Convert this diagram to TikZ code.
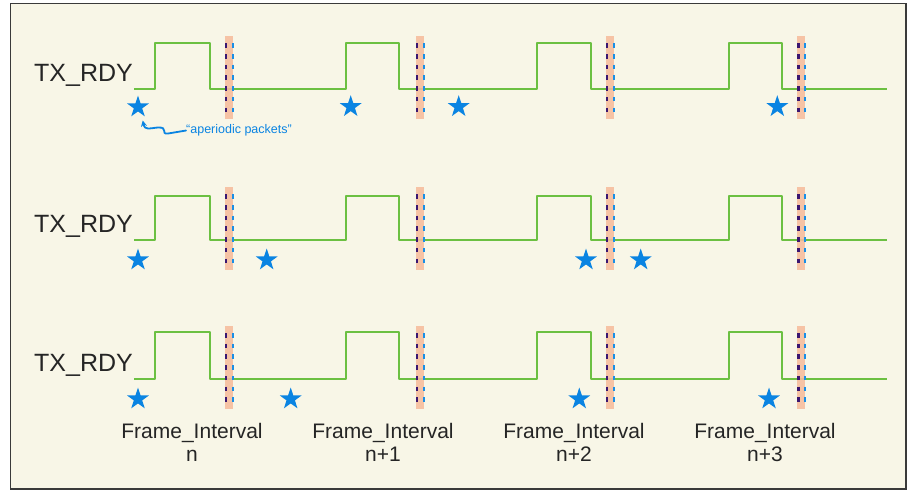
\documentclass[tikz,border=0pt]{standalone}
\usepackage{fontspec}
\setmainfont{Liberation Sans}
\usetikzlibrary{shapes.geometric,arrows.meta}
\definecolor{bgc}{HTML}{F8F6E7}
\definecolor{framec}{HTML}{3A3A3A}
\definecolor{sig}{HTML}{6CC042}
\definecolor{barc}{HTML}{F6BC9C}
\definecolor{dotdark}{HTML}{3A1670}
\definecolor{dotblue}{HTML}{1A8FE6}
\definecolor{starc}{HTML}{0A84E2}
\definecolor{txt}{HTML}{252525}
\tikzset{
  frame/.style={draw=framec, line width=1.6pt, fill=bgc},
  signal/.style={draw=sig, line width=2.2pt, line join=round},
  barrect/.style={fill=barc, fill opacity=0.88},
  darkdots/.style={draw=dotdark, line width=2.2pt, dash pattern=on 4.5pt off 6.2pt},
  bluedots/.style={draw=dotblue, line width=2.2pt, dash pattern=on 4.5pt off 6.2pt},
  pkt/.style={star, star points=5, star point ratio=2.6, minimum size=23pt, inner sep=0pt, fill=starc},
  rowlabel/.style={font=\fontsize{25}{28}\selectfont, text=txt, inner sep=0pt, anchor=base east},
  filabel/.style={font=\fontsize{21}{24}\selectfont, text=txt, inner sep=0pt, anchor=base},
  note/.style={font=\fontsize{12.5}{14}\selectfont, text=starc, inner sep=0pt, anchor=west},
  notearrow/.style={draw=starc, line width=1.8pt, -{Stealth[length=6pt,width=6pt]}, line cap=round}
}
\begin{document}
\begin{tikzpicture}[x=1pt,y=-1pt]
\useasboundingbox (0,0) rectangle (909,491);
\fill[white] (0,0) rectangle (909,491);
\draw[frame] (10.5,3.5) rectangle (906,489);

% rows: index / high / low
\foreach \r/\hi/\lo in {1/42.7/89.3, 2/195.7/240.3, 3/332/379}{
  \node[rowlabel] (lbl\r) at (133,\lo-8) {TX\_RDY};
  \draw[signal] (134,\lo) -- (155,\lo) -- (155,\hi) -- (210,\hi) -- (210,\lo)
     -- (346.3,\lo) -- (346.3,\hi) -- (399.3,\hi) -- (399.3,\lo)
     -- (537.3,\lo) -- (537.3,\hi) -- (590.7,\hi) -- (590.7,\lo)
     -- (728.7,\lo) -- (728.7,\hi) -- (782,\hi) -- (782,\lo) -- (887.3,\lo);
  \foreach \c in {228.7,419.5,609.7,800.9}{
    \fill[barrect] (\c-4,\lo-53.3) rectangle (\c+4,\lo+30);
    \draw[darkdots] (\c-2.4,\lo-46) -- (\c-2.4,\lo+24);
    \draw[bluedots] (\c+4.3,\lo-46) -- (\c+4.3,\lo+24);
  }
}

% packets
\node[pkt] (s11) at (138,107) {};
\node[pkt] (s12) at (350.7,106.7) {};
\node[pkt] (s13) at (458.7,106.7) {};
\node[pkt] (s14) at (777.3,106.7) {};
\node[pkt] (s21) at (138,260) {};
\node[pkt] (s22) at (266.7,260) {};
\node[pkt] (s23) at (586,260) {};
\node[pkt] (s24) at (640.7,260) {};
\node[pkt] (s31) at (138,399) {};
\node[pkt] (s32) at (290.7,399) {};
\node[pkt] (s33) at (579.3,399) {};
\node[pkt] (s34) at (769,399) {};

% annotation
\node[note] (ap) at (186,130.5) {“aperiodic packets”};
\coordinate (tip) at (142.7,120.5);
\draw[notearrow] (ap.west) -- (168,133.5) .. controls (160,134.5) and (169,127) .. (158,127.5)
   .. controls (150,128) and (145,131) .. (tip);

% frame interval labels
\node[filabel] (f1) at (192,438.3) {Frame\_Interval};
\node[filabel] (f1n) at (192,461.7) {n};
\node[filabel] (f2) at (383,438.3) {Frame\_Interval};
\node[filabel] (f2n) at (383,461.7) {n+1};
\node[filabel] (f3) at (574,438.3) {Frame\_Interval};
\node[filabel] (f3n) at (574,461.7) {n+2};
\node[filabel] (f4) at (765,438.3) {Frame\_Interval};
\node[filabel] (f4n) at (765,461.7) {n+3};
\end{tikzpicture}
\end{document}
